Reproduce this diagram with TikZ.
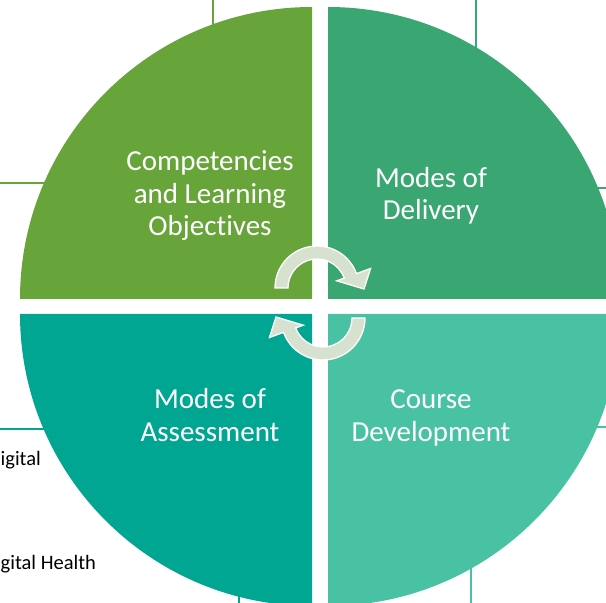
\documentclass[tikz,border=0pt]{standalone}
\usepackage{fontspec}
\setmainfont{Carlito}[Ligatures=NoCommon]
\begin{document}
\begin{tikzpicture}[x=1pt,y=1pt,
  quadTL/.style={fill={rgb,255:red,103;green,164;blue,58}},
  quadTR/.style={fill={rgb,255:red,58;green,167;blue,114}},
  quadBL/.style={fill={rgb,255:red,0;green,166;blue,146}},
  quadBR/.style={fill={rgb,255:red,72;green,194;blue,162}},
  stub/.style={line width=2.2pt},
  label/.style={text=white, align=center, inner sep=0pt,
    font=\fontsize{29}{32.5}\selectfont},
  sidetext/.style={text=black, inner sep=0pt, anchor=base west,
    font=\fontsize{20.5}{24}\selectfont},
  cycarrow/.style={fill={rgb,255:red,214;green,225;blue,207}, draw=white,
    line width=1.3pt, line join=miter}
]
\useasboundingbox (0,0) rectangle (606,603);
\clip (0,0) rectangle (606,603);

% short rule stubs running in from behind the disc
\coordinate (t1a) at (213,603); \coordinate (t1b) at (213,560);
\coordinate (t2a) at (476,603); \coordinate (t2b) at (476,540);
\coordinate (l1a) at (0,420);   \coordinate (l1b) at (70,420);
\coordinate (r1a) at (606,415); \coordinate (r1b) at (580,415);
\coordinate (l2a) at (0,174);   \coordinate (l2b) at (70,174);
\coordinate (r2a) at (606,176); \coordinate (r2b) at (580,176);
\coordinate (b1a) at (239,0);   \coordinate (b1b) at (239,40);
\coordinate (b2a) at (471,0);   \coordinate (b2b) at (471,70);
\draw[stub, draw={rgb,255:red,103;green,164;blue,58}] (t1a) -- (t1b);
\draw[stub, draw={rgb,255:red,58;green,167;blue,114}] (t2a) -- (t2b);
\draw[stub, draw={rgb,255:red,103;green,164;blue,58}] (l1a) -- (l1b);
\draw[stub, draw={rgb,255:red,58;green,167;blue,114}] (r1a) -- (r1b);
\draw[stub, draw={rgb,255:red,0;green,166;blue,146}] (l2a) -- (l2b);
\draw[stub, draw={rgb,255:red,72;green,194;blue,162}] (r2a) -- (r2b);
\draw[stub, draw={rgb,255:red,0;green,166;blue,146}] (b1a) -- (b1b);
\draw[stub, draw={rgb,255:red,72;green,194;blue,162}] (b2a) -- (b2b);

% partly covered side text
\node[sidetext] (s1) at (0.5,137) {igital};
\node[sidetext] (s2) at (0.5,33) {gital Health};

% four quarter discs
\fill[quadTL] (312,304) -- ++(-292,0) arc[start angle=180,end angle=90,radius=292pt] -- cycle;
\fill[quadTR] (328,304) -- ++(0,292) arc[start angle=90,end angle=0,radius=292pt] -- cycle;
\fill[quadBL] (312,289) -- ++(0,-292) arc[start angle=270,end angle=180,radius=292pt] -- cycle;
\fill[quadBR] (328,289) -- ++(292,0) arc[start angle=0,end angle=-90,radius=292pt] -- cycle;

% circular arrows in the middle
\foreach \ang/\cx/\cy in {0/317/315, 180/323/285} {
  \begin{scope}[shift={(\cx,\cy)}, rotate=\ang]
    \path[cycarrow] (180:42pt) arc[start angle=180,end angle=20,radius=42pt]
      -- (20:57pt) -- (47,-1) -- (20:21pt) -- (20:29pt)
      arc[start angle=20,end angle=180,radius=29pt] -- cycle;
  \end{scope}
}

% quadrant labels
\node[label] (q1) at (210,407) {Competencies\\and Learning\\Objectives};
\node[label] (q2) at (431,407) {Modes of\\Delivery};
\node[label] (q3) at (210,188) {Modes of\\Assessment};
\node[label] (q4) at (431,185) {Course\\Development};
\end{tikzpicture}
\end{document}
